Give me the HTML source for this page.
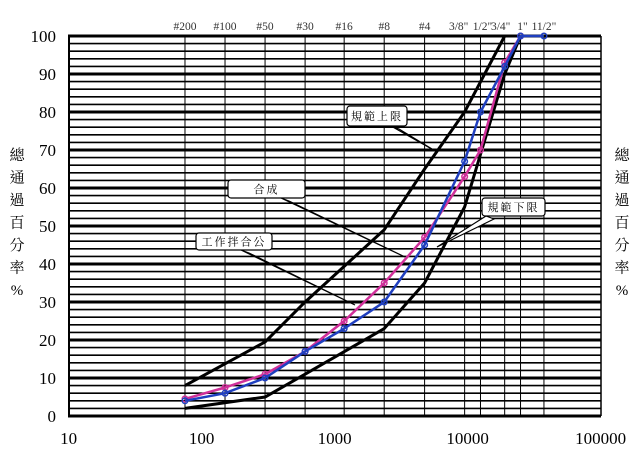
<!DOCTYPE html>
<html><head><meta charset="utf-8"><style>
html,body{margin:0;padding:0;background:#fff;width:635px;height:467px;overflow:hidden}
svg{display:block}
text{font-family:"Liberation Serif","Noto Serif CJK SC",serif}
.cj{font-family:"Liberation Serif","Noto Serif CJK TC","Noto Sans CJK TC",serif;font-size:15px}
</style></head><body>
<svg id="s" width="635" height="467" xmlns="http://www.w3.org/2000/svg"></svg>
<script>
const s=document.getElementById('s');let h='';
const X=v=>68.6+133*(Math.log10(v)-1), Y=p=>416-3.8*p;
for(let p=0;p<=100;p+=2){const th=(p%10==0)?3:1.6;h+=`<line x1="68" x2="601" y1="${Y(p)}" y2="${Y(p)}" stroke="#000" stroke-width="${th}"/>`;}
h+=`<line x1="69" x2="69" y1="36" y2="416" stroke="#000" stroke-width="2"/><line x1="601" x2="601" y1="36" y2="416" stroke="#000" stroke-width="1.5"/>`;
const sv=[75,150,300,600,1180,2360,4750,9500,12500,19000,25000,37500];
const sl=['#200','#100','#50','#30','#16','#8','#4','3/8"','1/2"','3/4"','1"','11/2"'];
const off=[0,0,0,0,0,0,0,-6,2,-4,2,0];
sv.forEach((v,i)=>{h+=`<line x1="${X(v)}" x2="${X(v)}" y1="36" y2="416" stroke="#000" stroke-width="1"/>`;
h+=`<text x="${X(v)+off[i]}" y="30" font-size="11.5" text-anchor="middle" fill="#333">${sl[i]}</text>`;});
for(let p=0;p<=100;p+=10)h+=`<text x="56" y="${Y(p)+6}" font-size="17" text-anchor="end">${p}</text>`;
[10,100,1000,10000,100000].forEach(v=>h+=`<text x="${X(v)}" y="444" font-size="17" text-anchor="middle">${v}</text>`);
const lab=['總','通','過','百','分','率','%'];
lab.forEach((c,i)=>{h+=`<text class="cj" x="17" y="${160+i*22.5}" text-anchor="middle">${c}</text><text class="cj" x="622" y="${160+i*22.5}" text-anchor="middle">${c}</text>`;});
function line(d,col,w,mk){const pts=d.map(([v,p])=>`${X(v).toFixed(1)},${Y(p).toFixed(1)}`).join(' ');
h+=`<polyline points="${pts}" fill="none" stroke="${col}" stroke-width="${w}"/>`;
if(mk)d.forEach(([v,p])=>h+=`<circle cx="${X(v)}" cy="${Y(p)}" r="2.8" fill="none" stroke="${mk}" stroke-width="1.5"/>`);}
line([[75,8],[300,19.5],[600,30],[2360,49],[4750,65],[9500,80],[19000,100]],'#000',3);
line([[75,2],[300,5],[600,11],[2360,23],[4750,35],[9500,55],[19000,90],[25000,100]],'#000',3);
line([[75,4.5],[150,7.5],[300,11],[600,17],[1180,25],[2360,35],[4750,47],[9500,63],[12500,70],[19000,93],[25000,100]],'#d0309a',2.5,'#d0309a');
line([[75,4],[150,6],[300,10],[600,17],[1180,23],[2360,30],[4750,45],[9500,67],[12500,80],[19000,92],[25000,100],[37500,100]],'#1f3fbf',2.5,'#1f3fbf');
function call(bx,by,bw,bh,txt,px,py,ax,ay){
h+=`<polygon points="${ax-4},${ay} ${ax+4},${ay+3} ${px},${py}" fill="#fff" stroke="#000" stroke-width="1.2"/>`;
h+=`<rect x="${bx}" y="${by}" width="${bw}" height="${bh}" rx="3" fill="#fff" stroke="#000" stroke-width="1.2"/>`;
h+=`<text class="cj" x="${bx+bw/2}" y="${by+bh/2+4}" style="font-size:11px;letter-spacing:2px" text-anchor="middle">${txt}</text>`;}
call(347,106,60,20,'規範上限',437,152,395,126);
call(228,180,77,18,'合成',405,257,285,198);
call(482,198,63,18,'規範下限',437,247,490,216);
call(196,233,76,17,'工作拌合公',355,305,245,250);
s.innerHTML=h;
</script>
</body></html>
